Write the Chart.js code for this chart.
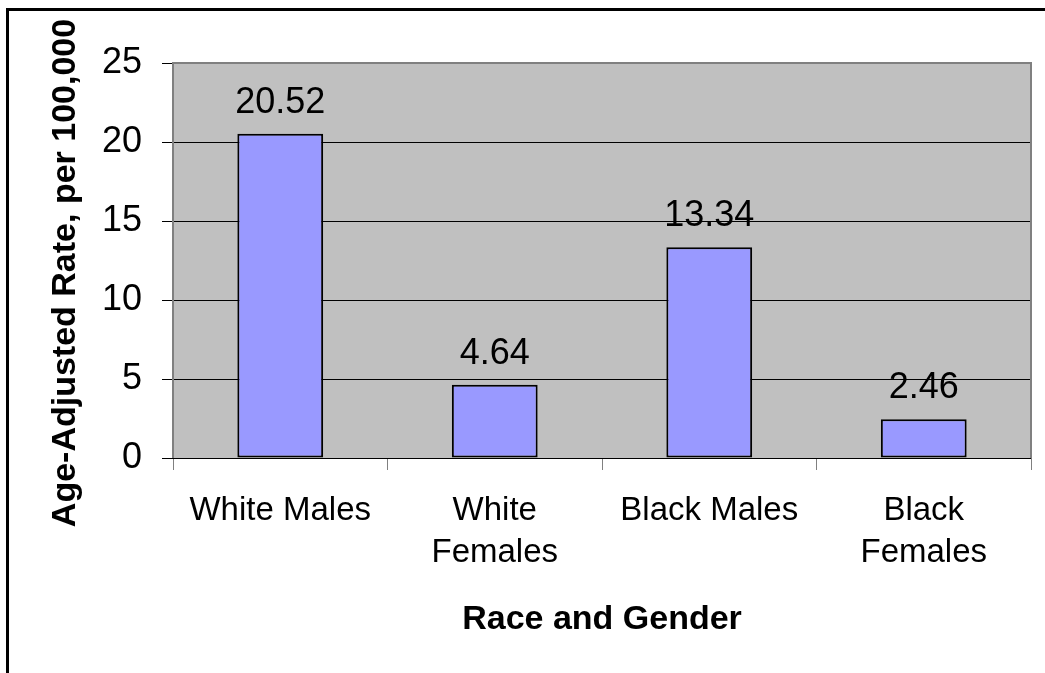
<!DOCTYPE html>
<html>
<head>
<meta charset="utf-8">
<script src="https://cdn.jsdelivr.net/npm/chart.js@4"></script>
<style>
  html, body { margin: 0; padding: 0; background: #fff; }
  #wrap { width: 1045px; height: 673px; }
</style>
</head>
<body>
<div id="wrap"><canvas id="rateChart" width="1045" height="673"></canvas></div>
<script>
  "use strict";

  const categories = [["White Males"], ["White", "Females"], ["Black Males"], ["Black", "Females"]];
  const rates = [20.52, 4.64, 13.34, 2.46];
  const yTicks = [0, 5, 10, 15, 20, 25];

  const yTitle = "Age-Adjusted Rate, per 100,000";
  const xTitle = "Race and Gender";
  const fontFamily = "'Liberation Sans', Arial, sans-serif";

  // frame, grey plot area, titles and value labels (Excel look)
  const excelLook = {
    id: "excelLook",
    beforeDraw(chart) {
      const { ctx, chartArea: a } = chart;
      ctx.save();
      ctx.fillStyle = "#fff";
      ctx.fillRect(0, 0, chart.width, chart.height);
      ctx.strokeStyle = "#000";
      ctx.lineWidth = 3;
      ctx.beginPath();
      ctx.moveTo(7.5, chart.height + 5);
      ctx.lineTo(7.5, 9.5);
      ctx.lineTo(chart.width + 5, 9.5);
      ctx.stroke();
      ctx.fillStyle = "#C0C0C0";
      ctx.fillRect(a.left, a.top, a.right - a.left, a.bottom - a.top);
      ctx.restore();
    },
    beforeDatasetsDraw(chart) {
      const { ctx, chartArea: a } = chart;
      ctx.save();
      ctx.strokeStyle = "#808080";
      ctx.lineWidth = 2;
      ctx.beginPath();
      ctx.moveTo(a.left, a.bottom);
      ctx.lineTo(a.left, a.top);
      ctx.lineTo(a.right, a.top);
      ctx.lineTo(a.right, a.bottom);
      ctx.stroke();
      ctx.restore();
    },
    afterDatasetsDraw(chart) {
      const { ctx } = chart;
      const meta = chart.getDatasetMeta(0);
      ctx.save();
      ctx.fillStyle = "#000";
      ctx.font = `36px ${fontFamily}`;
      ctx.textAlign = "center";
      ctx.textBaseline = "alphabetic";
      meta.data.forEach((bar, i) => {
        ctx.fillText(rates[i].toFixed(2), bar.x, bar.y - 21);
      });
      ctx.restore();
    },
    afterDraw(chart) {
      const { ctx, chartArea: a } = chart;
      ctx.save();
      ctx.fillStyle = "#000";
      ctx.font = `bold 34px ${fontFamily}`;
      ctx.textAlign = "center";
      ctx.textBaseline = "alphabetic";
      ctx.fillText(xTitle, (a.left + a.right) / 2, 629);
      ctx.translate(75, 273);
      ctx.rotate(-Math.PI / 2);
      ctx.fillText(yTitle, 0, 0);
      ctx.restore();
    },
  };

  new Chart(document.getElementById("rateChart"), {
    type: "bar",
    data: {
      labels: categories,
      datasets: [
        {
          label: "Rate",
          data: rates,
          backgroundColor: "#9999FF",
          borderColor: "#000",
          borderWidth: 2,
          borderSkipped: false,
          categoryPercentage: 1,
          barPercentage: 0.4,
        },
      ],
    },
    options: {
      responsive: false,
      animation: false,
      layout: { padding: { top: 63, right: 14, left: 0, bottom: 0 } },
      plugins: {
        legend: { display: false },
        tooltip: { enabled: false },
      },
      scales: {
        x: {
          offset: true,
          afterFit: (scale) => { scale.height = 215; },
          grid: {
            offset: true,
            drawOnChartArea: false,
            drawTicks: true,
            tickLength: 12,
            color: "#808080",
          },
          border: { display: false },
          ticks: {
            color: "#000",
            font: { family: fontFamily, size: 33, lineHeight: 1.27 },
            padding: 20,
            maxRotation: 0,
            autoSkip: false,
          },
        },
        y: {
          min: 0,
          max: 25,
          afterFit: (scale) => { scale.width = 173; },
          afterBuildTicks: (scale) => {
            scale.ticks = yTicks.map((v) => ({ value: v }));
          },
          grid: {
            color: (c) => (c.tick && c.tick.value === 25 ? "#808080" : "#000"),
            lineWidth: 1,
            tickLength: 11,
            tickColor: "#000",
          },
          border: { display: false },
          ticks: {
            color: "#000",
            font: { family: fontFamily, size: 36 },
            padding: 20,
          },
        },
      },
    },
    plugins: [excelLook],
  });
</script>
</body>
</html>
